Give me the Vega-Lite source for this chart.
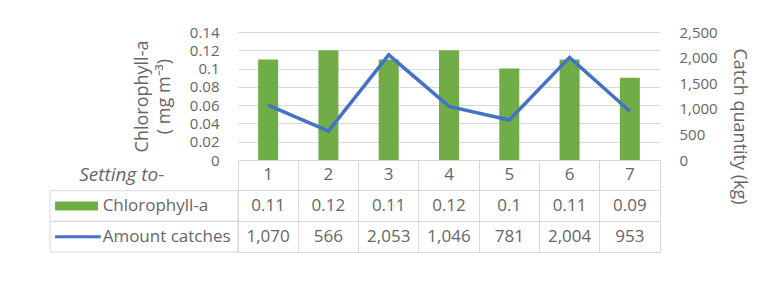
{
  "$schema": "https://vega.github.io/schema/vega-lite/v6.json",
  "padding": {"left": 49, "top": 25, "right": 12, "bottom": 0},
  "background": "white",
  "datasets": {
    "main": [
      {"setting": "1", "chl": 0.11, "catch": 1070},
      {"setting": "2", "chl": 0.12, "catch": 566},
      {"setting": "3", "chl": 0.11, "catch": 2053},
      {"setting": "4", "chl": 0.12, "catch": 1046},
      {"setting": "5", "chl": 0.10, "catch": 781},
      {"setting": "6", "chl": 0.11, "catch": 2004},
      {"setting": "7", "chl": 0.09, "catch": 953}
    ],
    "series": [
      {"series": "Chlorophyll-a"},
      {"series": "Amount catches"}
    ],
    "header": [
      {"label": "Setting to-"}
    ]
  },
  "config": {
    "font": "Open Sans",
    "axis": {
      "labelColor": "#666666",
      "titleColor": "#666666",
      "labelFont": "Open Sans",
      "titleFont": "Open Sans",
      "labelFontSize": 15,
      "titleFontSize": 18,
      "titleFontWeight": "normal",
      "domain": false,
      "ticks": false,
      "gridColor": "#d9d9d9",
      "gridWidth": 1
    },
    "text": {"font": "Open Sans", "fontSize": 17, "color": "#666666"}
  },
  "spacing": 0,
  "bounds": "flush",
  "columns": 2,
  "resolve": {"scale": {"x": "independent", "y": "independent", "color": "independent"}},
  "concat": [
    {
      "width": 188,
      "height": 128,
      "view": {"stroke": null},
      "data": {"values": []},
      "mark": "point",
      "encoding": {}
    },
    {
      "width": 422,
      "height": 128,
      "view": {"stroke": null},
      "data": {"name": "main"},
      "encoding": {
        "x": {
          "field": "setting",
          "type": "ordinal",
          "scale": {"type": "band", "paddingInner": 0, "paddingOuter": 0},
          "axis": null
        }
      },
      "layer": [
        {
          "mark": {"type": "bar", "size": 20, "color": "#70AD47"},
          "encoding": {
            "y": {
              "field": "chl",
              "type": "quantitative",
              "scale": {"domain": [0, 0.14], "nice": false},
              "axis": {
                "orient": "left",
                "values": [0, 0.02, 0.04, 0.06, 0.08, 0.1, 0.12, 0.14],
                "format": ".2~f",
                "grid": true,
                "labelPadding": 19,
                "title": ["Chlorophyll-a", "( mg m⁻³)"],
                "titlePadding": 16,
                "titleLineHeight": 22
              }
            }
          }
        },
        {
          "mark": {"type": "line", "color": "#4472C4", "strokeWidth": 3.5},
          "encoding": {
            "y": {
              "field": "catch",
              "type": "quantitative",
              "scale": {"domain": [0, 2500], "nice": false},
              "axis": {
                "orient": "right",
                "values": [0, 500, 1000, 1500, 2000, 2500],
                "format": ",.0f",
                "grid": false,
                "labelPadding": 19,
                "title": "Catch quantity (kg)",
                "titlePadding": 12,
                "titleY": 94
              }
            }
          }
        }
      ],
      "resolve": {"scale": {"y": "independent"}}
    },
    {
      "width": 188,
      "height": 92,
      "view": {"stroke": null},
      "data": {"name": "series"},
      "layer": [
        {
          "mark": {"type": "rect", "fill": "transparent", "stroke": "#d9d9d9", "strokeWidth": 1},
          "encoding": {
            "y": {
              "field": "series",
              "type": "nominal",
              "scale": {"type": "band", "domain": ["Setting to-", "Chlorophyll-a", "Amount catches"], "paddingInner": 0, "paddingOuter": 0},
              "axis": null
            },
            "x": {"datum": 0, "type": "quantitative", "scale": {"domain": [0, 1], "nice": false, "zero": false}, "axis": null},
            "x2": {"datum": 1}
          }
        },
        {
          "transform": [{"filter": "datum.series == 'Chlorophyll-a'"}],
          "mark": {"type": "rule", "color": "#70AD47", "strokeWidth": 9, "strokeCap": "butt"},
          "encoding": {
            "y": {"field": "series", "type": "nominal"},
            "x": {"datum": 0.027, "type": "quantitative"},
            "x2": {"datum": 0.255}
          }
        },
        {
          "transform": [{"filter": "datum.series == 'Amount catches'"}],
          "mark": {"type": "rule", "color": "#4472C4", "strokeWidth": 3, "strokeCap": "butt"},
          "encoding": {
            "y": {"field": "series", "type": "nominal"},
            "x": {"datum": 0.027, "type": "quantitative"},
            "x2": {"datum": 0.27}
          }
        },
        {
          "mark": {"type": "text", "align": "left"},
          "encoding": {
            "y": {"field": "series", "type": "nominal"},
            "x": {"datum": 0.28, "type": "quantitative"},
            "text": {"field": "series"}
          }
        },
        {
          "data": {"name": "header"},
          "mark": {"type": "text", "align": "left", "fontStyle": "italic", "fontSize": 19},
          "encoding": {
            "y": {"datum": "Setting to-", "type": "nominal"},
            "x": {"datum": 0.155, "type": "quantitative"},
            "text": {"field": "label"}
          }
        }
      ]
    },
    {
      "width": 422,
      "height": 92,
      "view": {"stroke": "#d9d9d9"},
      "data": {"name": "main"},
      "encoding": {
        "x": {
          "field": "setting",
          "type": "ordinal",
          "scale": {"type": "band", "paddingInner": 0, "paddingOuter": 0},
          "axis": {"labels": false, "grid": true, "bandPosition": 0, "title": null}
        }
      },
      "layer": [
        {
          "mark": "text",
          "encoding": {
            "y": {
              "datum": "Setting to-",
              "type": "nominal",
              "scale": {"type": "band", "domain": ["Setting to-", "Chlorophyll-a", "Amount catches"], "paddingInner": 0, "paddingOuter": 0},
              "axis": {"labels": false, "grid": true, "bandPosition": 1, "title": null}
            },
            "text": {"field": "setting"}
          }
        },
        {
          "mark": "text",
          "encoding": {
            "y": {"datum": "Chlorophyll-a", "type": "nominal"},
            "text": {"field": "chl", "type": "quantitative", "format": ".2~f"}
          }
        },
        {
          "mark": "text",
          "encoding": {
            "y": {"datum": "Amount catches", "type": "nominal"},
            "text": {"field": "catch", "type": "quantitative", "format": ","}
          }
        }
      ]
    }
  ]
}
